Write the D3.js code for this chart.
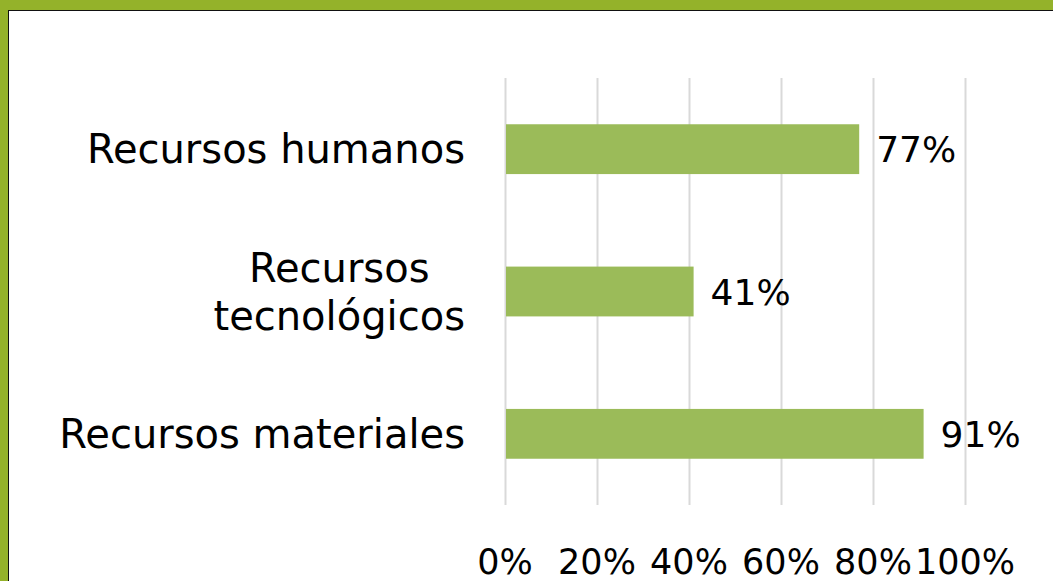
<!DOCTYPE html>
<html>
<head>
<meta charset="utf-8">
<script src="https://cdn.jsdelivr.net/npm/d3@7"></script>
<style>
  html, body { margin: 0; padding: 0; background: #94b22a; }
  svg { display: block; }
</style>
</head>
<body>
<div class="d3-chart"></div>
<script>
const categories = ["Recursos humanos", "Recursos tecnológicos", "Recursos materiales"];
const values = [0.77, 0.41, 0.91];
const ticks = [0, 0.2, 0.4, 0.6, 0.8, 1];

const width = 1053;
const height = 581;
const font = "'DejaVu Sans', sans-serif";

const svg = d3.select(".d3-chart")
  .append("svg")
  .attr("width", width)
  .attr("height", height)
  .style("font-family", font);

// green frame, thin dark line, white slide
svg.append("rect").attr("width", width).attr("height", height).attr("fill", "#94b22a");
svg.append("rect").attr("x", 8).attr("y", 10).attr("width", width).attr("height", height).attr("fill", "#111");
svg.append("rect").attr("x", 9).attr("y", 11).attr("width", width).attr("height", height).attr("fill", "#fff");

const x = d3.scaleLinear().domain([0, 1]).range([505, 965]);
const y = d3.scaleBand().domain(categories).range([78, 505]).paddingInner(0.65).paddingOuter(0.325);

// gridlines
svg.append("g")
  .selectAll("line")
  .data(ticks)
  .join("line")
  .attr("x1", d => x(d) + 0.5)
  .attr("x2", d => x(d) + 0.5)
  .attr("y1", 78)
  .attr("y2", 505)
  .attr("stroke", "#d9d9d9")
  .attr("stroke-width", 2);

// bars
svg.append("g")
  .selectAll("rect")
  .data(values)
  .join("rect")
  .attr("x", x(0) + 1)
  .attr("y", (d, i) => y(categories[i]))
  .attr("width", d => x(d) - x(0) - 1)
  .attr("height", y.bandwidth())
  .attr("fill", "#9bbb59");

// value labels
svg.append("g")
  .selectAll("text")
  .data(values)
  .join("text")
  .attr("x", d => x(d) + 17)
  .attr("y", (d, i) => y(categories[i]) + y.bandwidth() / 2 + 13)
  .attr("font-size", 36)
  .attr("fill", "#000")
  .text(d => d3.format(".0%")(d));

// category labels (wrap long one)
const wrapped = {"Recursos tecnológicos": ["Recursos", "tecnológicos"]};
const cat = svg.append("g")
  .selectAll("text")
  .data(categories)
  .join("text")
  .attr("font-size", 40)
  .attr("fill", "#000");

cat.each(function(d) {
  const t = d3.select(this);
  const cy = y(d) + y.bandwidth() / 2;
  const lines = wrapped[d] || [d];
  if (lines.length === 1) {
    t.attr("x", 465).attr("y", cy + 14).attr("text-anchor", "end").text(d);
  } else {
    // centre lines against each other, block right-aligned
    const tmp = svg.append("text").attr("font-size", 40).text(lines.reduce((a, b) => a.length > b.length ? a : b));
    const w = tmp.node().getComputedTextLength();
    tmp.remove();
    const cx = 465 - w / 2;
    lines.forEach((ln, i) => {
      t.append("tspan")
        .attr("x", cx)
        .attr("y", cy + 14 + (i - (lines.length - 1) / 2) * 48)
        .attr("text-anchor", "middle")
        .text(ln);
    });
  }
});

// x tick labels
svg.append("g")
  .selectAll("text")
  .data(ticks)
  .join("text")
  .attr("x", d => x(d))
  .attr("y", 574)
  .attr("text-anchor", "middle")
  .attr("font-size", 35)
  .attr("fill", "#000")
  .text(d => d3.format(".0%")(d));
</script>
</body>
</html>
